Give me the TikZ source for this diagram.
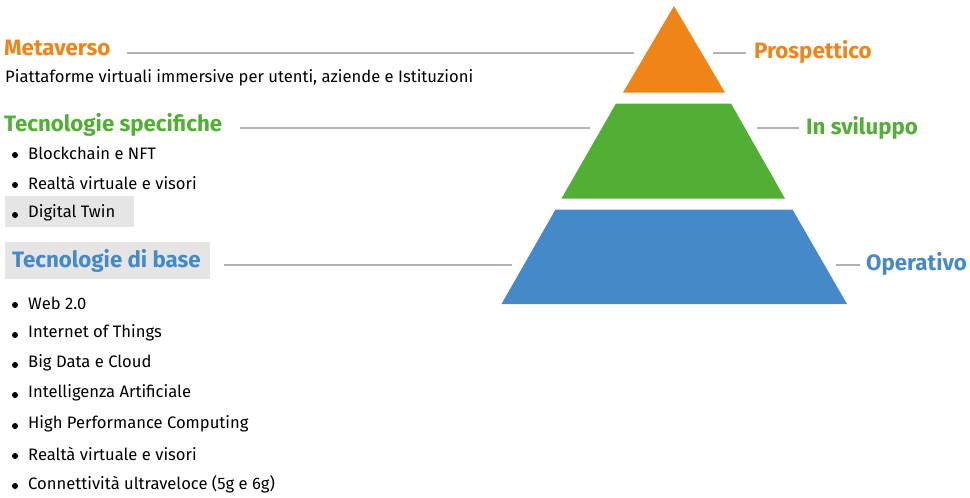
\documentclass[tikz,border=0pt]{standalone}
\usepackage{fontspec}
\setmainfont{Fira Sans}
\definecolor{cOr}{HTML}{EF8419}
\definecolor{cGr}{HTML}{53AE35}
\definecolor{cBl}{HTML}{4689C8}
\definecolor{cLn}{HTML}{B3B3B3}
\definecolor{cBx}{HTML}{E5E5E5}
\begin{document}
\begin{tikzpicture}[x=1pt,y=-1pt,
  lvl/.style={font=\fontsize{22.3}{25}\selectfont\bfseries,anchor=west,inner sep=0pt},
  item/.style={font=\fontsize{16.6}{19}\selectfont,anchor=west,inner sep=0pt},
  conn/.style={draw=cLn,line width=2pt},
  dot/.style={circle,fill=black,inner sep=0pt,minimum size=6pt}]
\useasboundingbox (0,0) rectangle (970,498);
% gray boxes
\fill[cBx] (5,196) rectangle (134,227);
\fill[cBx] (5,242) rectangle (210,279);
% pyramid
\fill[cOr] (674,6) -- (725,92.5) -- (623,92.5) -- cycle;
\fill[cGr] (616,103.5) -- (731,103.5) -- (785,198.5) -- (561.5,198.5) -- cycle;
\fill[cBl] (555.5,209.5) -- (792.5,209.5) -- (847,304) -- (501.5,304) -- cycle;
\coordinate (tL) at (634,52.5); \coordinate (tR) at (713,52.5);
\coordinate (mL) at (590,128); \coordinate (mR) at (757,128);
\coordinate (bL) at (512,264.5); \coordinate (bR) at (836,264.5);
% titles
\node[lvl,text=cOr] (meta) at (4,48) {Metaverso};
\node[item] (piatt) at (5,78) {Piattaforme virtuali immersive per utenti, aziende e Istituzioni};
\node[lvl,text=cGr] (spec) at (4,125) {Tecnologie specifiche};
\node[lvl,text=cBl] (base) at (12,261) {Tecnologie di base};
\node[lvl,text=cOr] (prosp) at (754,52) {Prospettico};
\node[lvl,text=cGr] (svil) at (806,128) {In sviluppo};
\node[lvl,text=cBl] (oper) at (866,264) {Operativo};
% connectors
\draw[conn] (127,52.5) -- (tL);
\draw[conn] (tR) -- (746,52.5);
\draw[conn] (240,128) -- (mL);
\draw[conn] (mR) -- (799,128);
\draw[conn] (224,264.5) -- (bL);
\draw[conn] (bR) -- (860,264.5);
% items
\foreach \n/\y/\t in {i1/153/Blockchain e NFT, i2/183/Realtà virtuale e visori, i3/213/Digital Twin,
  j1/303/Web 2.0, j2/333/Internet of Things, j3/363/Big Data e Cloud, j4/393/Intelligenza Artificiale,
  j5/424/High Performance Computing, j6/454/Realtà virtuale e visori, j7/484/{Connettività ultraveloce (5g e 6g)}}{
  \node[dot] (d\n) at (15,\y+2) {};
  \node[item] (\n) at (28,\y) {\t};
}
\end{tikzpicture}
\end{document}
